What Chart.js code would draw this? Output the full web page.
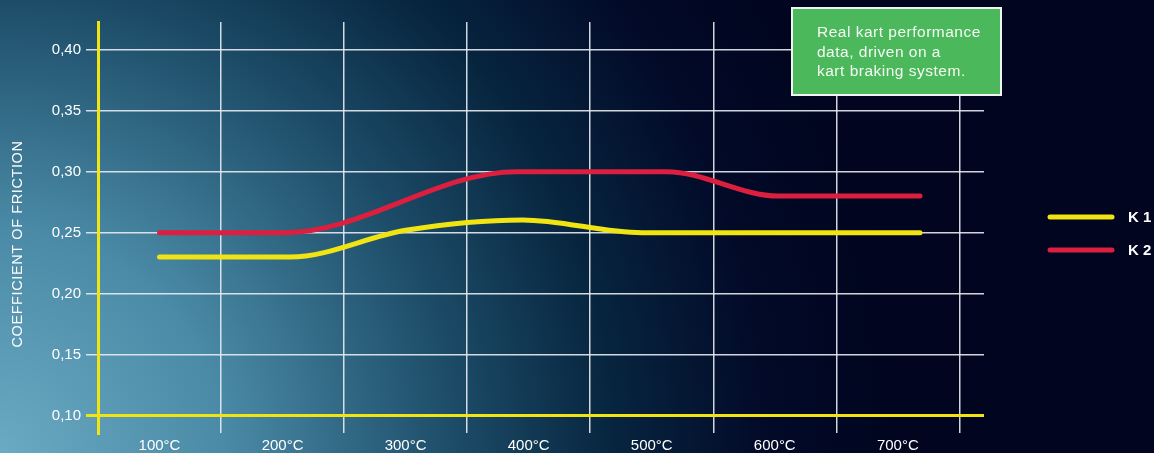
<!DOCTYPE html>
<html>
<head>
<meta charset="utf-8">
<script src="https://cdn.jsdelivr.net/npm/chart.js@4"></script>
<style>
  html, body { margin: 0; padding: 0; background: #020722; }
  #wrap { width: 1154px; height: 453px; }
</style>
</head>
<body>
<div id="wrap"><canvas id="myChart" width="1154" height="453"></canvas></div>
<script>
// temperatures on the x axis (°C), gridlines sit between the labels
let tempLabels = ['100°C', '200°C', '300°C', '400°C', '500°C', '600°C', '700°C'];
let gridTemps = [50, 150, 250, 350, 450, 550, 650, 750];
let frictionTicks = [0.10, 0.15, 0.20, 0.25, 0.30, 0.35, 0.40];

// K 1 curve
let k1Temp = [100, 206, 300, 395, 492, 718];
let k1Values = [0.23, 0.23, 0.252, 0.2605, 0.25, 0.25];

// K 2 curve
let k2Temp = [100, 202, 390, 512, 603, 718];
let k2Values = [0.25, 0.25, 0.30, 0.30, 0.28, 0.28];

let noteLines = ['Real kart performance', 'data, driven on a', 'kart braking system.'];
let yTitle = 'COEFFICIENT OF FRICTION';

let toPoints = (xs, ys) => xs.map((x, i) => ({ x: x, y: ys[i] }));

let gridColor = 'rgba(232,236,242,0.9)';
let yellow = '#f0e412';
let red = '#dc1f3e';

// fondo degradado
let background = {
  id: 'background',
  beforeDraw(chart) {
    let ctx = chart.ctx;
    let g = ctx.createRadialGradient(0, 453, 0, 0, 453, 900);
    g.addColorStop(0, '#6aaac2');
    g.addColorStop(0.25, '#4a8aa6');
    g.addColorStop(0.5, '#1d4d69');
    g.addColorStop(0.68, '#07253f');
    g.addColorStop(0.85, '#020a28');
    g.addColorStop(1, '#01051f');
    ctx.save();
    ctx.fillStyle = g;
    ctx.fillRect(0, 0, chart.width, chart.height);
    ctx.restore();
  }
};

// leyenda, caja verde y titulo del eje
let extras = {
  id: 'extras',
  afterDraw(chart) {
    let ctx = chart.ctx;
    ctx.save();

    // legend
    chart.data.datasets.forEach((ds, i) => {
      let y = 217 + i * 33;
      ctx.strokeStyle = ds.borderColor;
      ctx.lineWidth = 5;
      ctx.lineCap = 'round';
      ctx.beginPath();
      ctx.moveTo(1050, y);
      ctx.lineTo(1112, y);
      ctx.stroke();
      ctx.fillStyle = '#ffffff';
      ctx.font = 'bold 15px "Liberation Sans", Arial, sans-serif';
      ctx.textBaseline = 'middle';
      ctx.textAlign = 'left';
      ctx.fillText(ds.label, 1128, y + 1);
    });

    // note box
    ctx.fillStyle = '#4cb85c';
    ctx.fillRect(792, 8, 209, 87);
    ctx.strokeStyle = '#f2f4f2';
    ctx.lineWidth = 2;
    ctx.strokeRect(792, 8, 209, 87);
    ctx.fillStyle = '#f4fbf4';
    ctx.font = '15.5px "Liberation Sans", Arial, sans-serif';
    ctx.letterSpacing = '0.5px';
    ctx.textBaseline = 'middle';
    noteLines.forEach((t, i) => {
      ctx.fillText(t, 817, 33 + i * 19.5);
    });

    // y title
    ctx.translate(18, 244);
    ctx.rotate(-Math.PI / 2);
    ctx.textAlign = 'center';
    ctx.fillStyle = '#ffffff';
    ctx.font = '14.5px "Liberation Sans", Arial, sans-serif';
    ctx.letterSpacing = '0.6px';
    ctx.fillText(yTitle, 0, 0);
    ctx.restore();
  }
};

let ctx = document.getElementById('myChart').getContext('2d');
let chart = new Chart(ctx, {
  type: 'line',
  data: {
    datasets: [{
      label: 'K 1',
      data: toPoints(k1Temp, k1Values),
      borderColor: yellow,
      borderWidth: 5,
      borderCapStyle: 'round',
      cubicInterpolationMode: 'monotone',
      pointRadius: 0,
      fill: false
    }, {
      label: 'K 2',
      data: toPoints(k2Temp, k2Values),
      borderColor: red,
      borderWidth: 5,
      borderCapStyle: 'round',
      cubicInterpolationMode: 'monotone',
      pointRadius: 0,
      fill: false
    }]
  },
  options: {
    responsive: false,
    animation: false,
    layout: { padding: { left: 0, right: 170, top: 22, bottom: 0 } },
    plugins: {
      legend: { display: false },
      tooltip: { enabled: false }
    },
    scales: {
      x: {
        type: 'linear',
        min: 50,
        max: 770,
        afterBuildTicks: scale => { scale.ticks = gridTemps.map(v => ({ value: v })); },
        afterFit: scale => { scale.height = 20; },
        grid: { color: gridColor, lineWidth: 1.5, drawTicks: false },
        border: { display: false },
        ticks: {
          color: '#ffffff',
          font: { size: 15, family: '"Liberation Sans", Arial, sans-serif' },
          padding: 4,
          maxRotation: 0,
          autoSkip: false,
          labelOffset: 61.5,
          callback: (v, i) => tempLabels[i] || ''
        }
      },
      y: {
        min: 0.0858,
        max: 0.4227,
        afterBuildTicks: scale => { scale.ticks = frictionTicks.map(v => ({ value: v })); },
        afterFit: scale => { scale.width = 98; },
        grid: {
          color: c => c.tick && Math.abs(c.tick.value - 0.10) < 1e-6 ? yellow : gridColor,
          lineWidth: c => c.tick && Math.abs(c.tick.value - 0.10) < 1e-6 ? 3 : 1.5,
          drawTicks: true,
          tickLength: 12
        },
        border: { display: true, color: yellow, width: 3 },
        ticks: {
          color: '#ffffff',
          font: { size: 15, family: '"Liberation Sans", Arial, sans-serif' },
          padding: 5,
          callback: v => v.toFixed(2).replace('.', ',')
        }
      }
    }
  },
  plugins: [background, extras]
});
</script>
</body>
</html>
